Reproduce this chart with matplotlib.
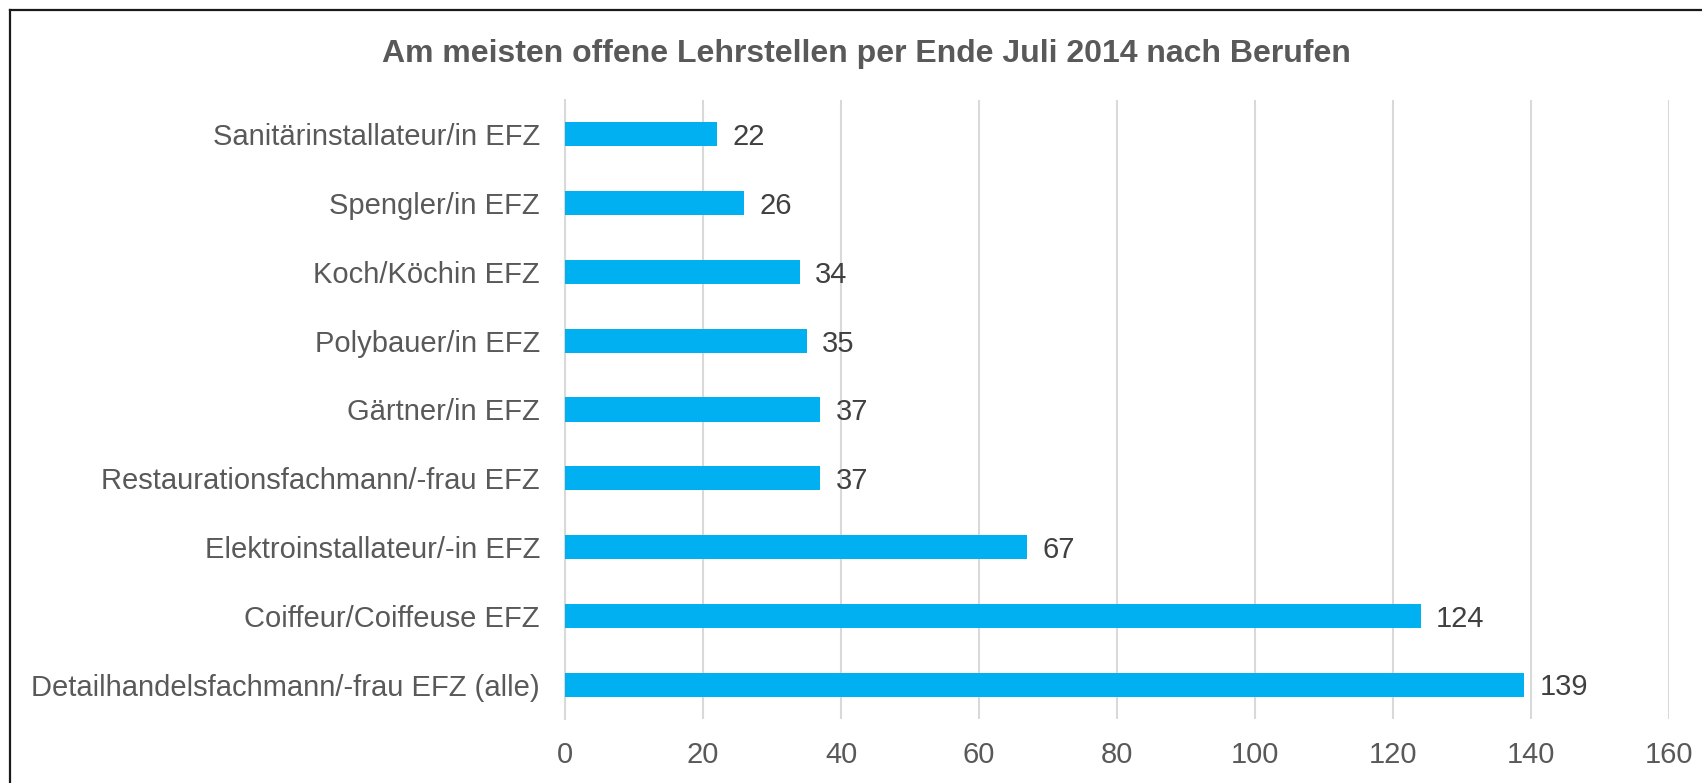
import matplotlib
matplotlib.use("Agg")
import matplotlib.pyplot as plt
from matplotlib.lines import Line2D

plt.rcParams['font.family'] = ['Liberation Sans', 'DejaVu Sans']

berufe = [
    "Sanitärinstallateur/in EFZ",
    "Spengler/in EFZ",
    "Koch/Köchin EFZ",
    "Polybauer/in EFZ",
    "Gärtner/in EFZ",
    "Restaurationsfachmann/-frau EFZ",
    "Elektroinstallateur/-in EFZ",
    "Coiffeur/Coiffeuse EFZ",
    "Detailhandelsfachmann/-frau EFZ (alle)",
]
offene_stellen = [22, 26, 34, 35, 37, 37, 67, 124, 139]
x_ticks = [0, 20, 40, 60, 80, 100, 120, 140, 160]

fig = plt.figure(figsize=(17.02, 7.83), dpi=100)
ax = fig.add_axes([565 / 1702, 1 - 719 / 783, (1669 - 565) / 1702, (719 - 100) / 783])

pos = list(range(len(berufe)))
ax.barh(pos, offene_stellen, height=0.35, color="#00B0F0", zorder=3)

for p, v in zip(pos, offene_stellen):
    ax.annotate(str(v), (v, p), xytext=(11, -2), textcoords="offset points",
                va="center", ha="left", fontsize=21, color="#404040")

ax.set_yticks(pos)
ax.set_yticklabels(berufe)
ax.set_ylim(len(berufe) - 0.5, -0.5)
ax.set_xlim(0, 160)
ax.set_xticks(x_ticks)

ax.tick_params(axis="y", length=0, pad=18, labelsize=21, labelcolor="#595959")
ax.tick_params(axis="x", length=0, pad=16, labelsize=21, labelcolor="#595959")

ax.grid(axis="x", color="#D9D9D9", linewidth=1.5, zorder=0)
for s in ["top", "right", "bottom"]:
    ax.spines[s].set_visible(False)
ax.spines["left"].set_color("#D9D9D9")
ax.spines["left"].set_linewidth(1.5)

fig.text(0.5 * (352 + 1245) * 1.0855 / 1702, 1 - 54 / 783,
         "Am meisten offene Lehrstellen per Ende Juli 2014 nach Berufen",
         ha="center", va="center", fontsize=23, fontweight="bold", color="#595959")

# Rahmen (oben und links sichtbar)
fig.add_artist(Line2D([10 / 1702, 1.0], [1 - 10 / 783, 1 - 10 / 783],
                      transform=fig.transFigure, color="#1a1a1a", linewidth=1.6))
fig.add_artist(Line2D([10 / 1702, 10 / 1702], [0, 1 - 10 / 783],
                      transform=fig.transFigure, color="#1a1a1a", linewidth=1.6))

fig.savefig("out.png", dpi=100)
